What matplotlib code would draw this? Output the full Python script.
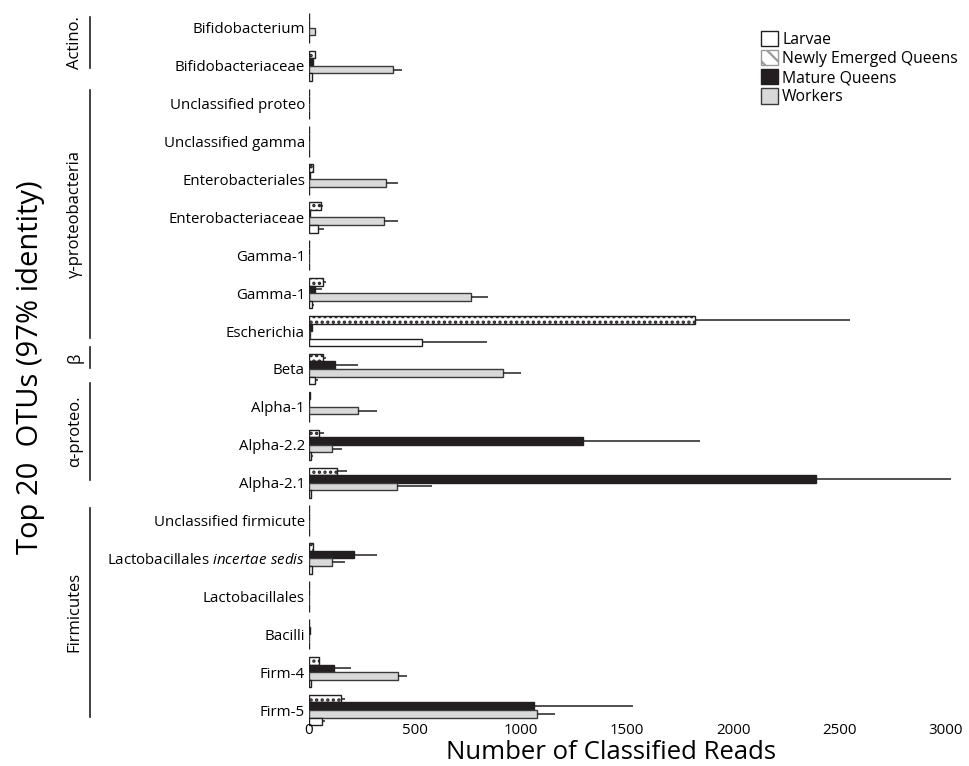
import matplotlib
matplotlib.use("Agg")
import matplotlib.pyplot as plt
import numpy as np
from matplotlib.patches import Patch

plt.rcParams['font.family'] = ['Open Sans', 'DejaVu Sans']
plt.rcParams['mathtext.fontset'] = 'custom'
plt.rcParams['mathtext.it'] = 'Open Sans:italic'
plt.rcParams['mathtext.rm'] = 'Open Sans'
plt.rcParams['hatch.linewidth'] = 1.6

# rows, top to bottom
otus = ['Bifidobacterium', 'Bifidobacteriaceae', 'Unclassified proteo', 'Unclassified gamma',
        'Enterobacteriales', 'Enterobacteriaceae', 'Gamma-1', 'Gamma-1', 'Escherichia', 'Beta',
        'Alpha-1', 'Alpha-2.2', 'Alpha-2.1', 'Unclassified firmicute',
        r'Lactobacillales $\it{incertae\ sedis}$', 'Lactobacillales', 'Bacilli', 'Firm-4', 'Firm-5']

neq = [0, 30, 0, 0, 20, 55, 0, 66, 1820, 66, 5, 47, 132, 0, 18, 0, 0, 45, 150]
neq_err = [0, 5, 0, 0, 3, 12, 0, 14, 730, 14, 5, 23, 46, 0, 5, 0, 0, 5, 20]
mature = [0, 20, 0, 0, 3, 5, 0, 30, 15, 123, 0, 1290, 2390, 0, 212, 0, 5, 118, 1060]
mature_err = [0, 0, 0, 0, 0, 0, 0, 30, 5, 107, 0, 555, 640, 0, 108, 0, 0, 80, 470]
workers = [28, 396, 0, 0, 363, 355, 0, 764, 5, 915, 231, 108, 415, 0, 110, 0, 0, 420, 1075]
workers_err = [5, 42, 0, 0, 57, 65, 0, 80, 5, 85, 89, 49, 165, 0, 60, 0, 0, 42, 85]
larvae = [0, 12, 0, 0, 0, 42, 0, 12, 535, 28, 0, 10, 8, 0, 12, 0, 0, 10, 60]
larvae_err = [0, 0, 0, 0, 0, 28, 0, 13, 305, 14, 0, 10, 0, 0, 0, 0, 0, 5, 15]

# taxonomic groups: label, bracket top and bottom (in row units)
groups = [('Actino.', -0.29, 1.06), ('γ-proteobacteria', 1.64, 8.18), ('β', 8.42, 8.97),
          ('α-proteo.', 9.37, 11.93), ('Firmicutes', 12.66, 18.18)]

fig = plt.figure(figsize=(9.7, 7.66), dpi=100)
ax = fig.add_axes([0.3186, 0.0483, 0.6557, 0.94])

y = np.arange(len(otus))
h = 0.2
series = [
    ('Newly Emerged Queens', neq, neq_err, -1.5, dict(color='white', hatch='...', edgecolor='#231f20')),
    ('Mature Queens', mature, mature_err, -0.5, dict(color='#231f20', edgecolor='#231f20')),
    ('Workers', workers, workers_err, 0.5, dict(color='#d9d9d9', edgecolor='#3a3a3a')),
    ('Larvae', larvae, larvae_err, 1.5, dict(color='white', edgecolor='#231f20')),
]
for name, vals, errs, off, style in series:
    pos = y + off * h
    ax.barh(pos, vals, height=h, linewidth=1, **style)
    e = np.array(errs)
    m = e > 0
    ax.errorbar(np.array(vals)[m] + e[m] / 2, pos[m], xerr=e[m] / 2, fmt='none',
                ecolor='#231f20', elinewidth=1.1, capsize=0, clip_on=False)

ax.set_ylim(len(otus) - 0.5, -0.5)
ax.set_xlim(0, 3000)
ax.set_yticks(y)
ax.set_yticklabels(otus, fontsize=10.8)
ax.set_xticks([0, 500, 1000, 1500, 2000, 2500, 3000])
ax.tick_params(axis='both', length=0, labelsize=10.8)
ax.tick_params(axis='y', pad=3)
ax.tick_params(axis='x', pad=-4)
for s in ax.spines.values():
    s.set_visible(False)

fig.text(0.63, 0.018, 'Number of Classified Reads', fontsize=18.5, ha='center', va='center')
fig.text(0.031, 0.52, 'Top 20  OTUs (97% identity)', rotation=90, fontsize=21,
         ha='center', va='center')

# group brackets on the left
def row_to_fig(r):
    return ax.transData.transform((0, r))[1] / fig.bbox.height

for label, a, b in groups:
    top = row_to_fig(a)
    bot = row_to_fig(b)
    fig.add_artist(plt.Line2D([0.093, 0.093], [bot, top], color='#231f20', lw=1.2))
    fig.text(0.077, (top + bot) / 2, label, rotation=90, fontsize=12,
             ha='center', va='center')

handles = [Patch(facecolor='white', edgecolor='#231f20', label='Larvae'),
           Patch(facecolor='white', edgecolor='#9a9a9a', hatch='\\\\', label='Newly Emerged Queens'),
           Patch(facecolor='#231f20', edgecolor='#231f20', label='Mature Queens'),
           Patch(facecolor='#d9d9d9', edgecolor='#3a3a3a', label='Workers')]
fig.legend(handles=handles, loc='upper left', bbox_to_anchor=(0.778, 0.968), frameon=False,
           fontsize=11.3, handlelength=1.1, handleheight=1.1, handletextpad=0.25,
           labelspacing=0.15, borderaxespad=0)

fig.savefig('out.png', dpi=100)
